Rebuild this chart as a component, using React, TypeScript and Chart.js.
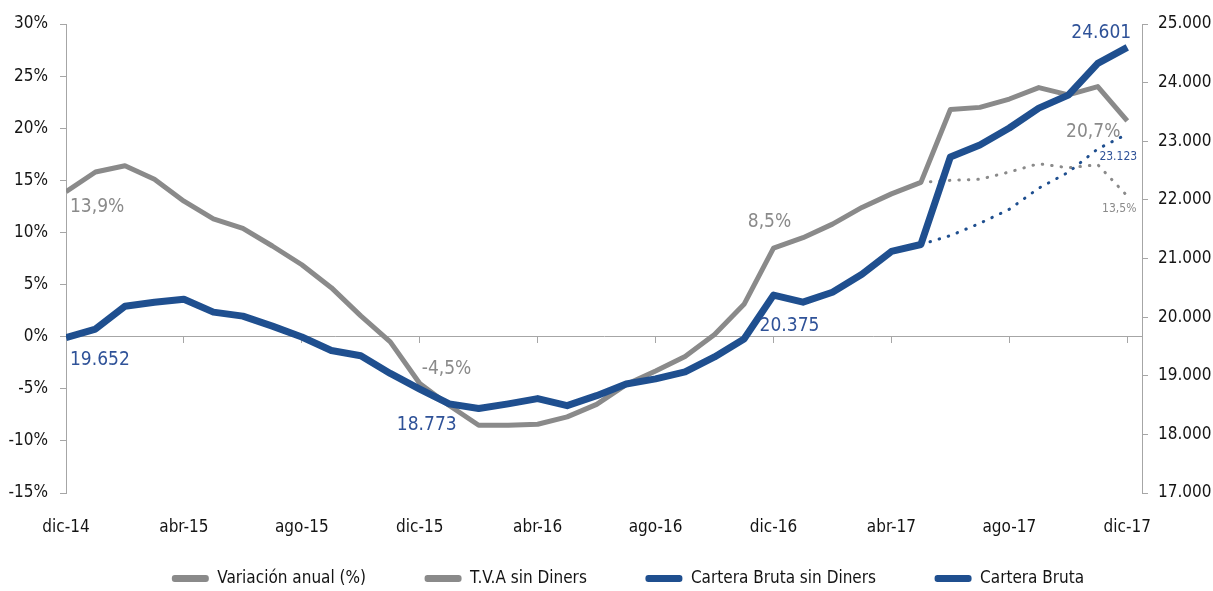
import React, { useEffect, useRef } from 'react';
import { Chart, registerables } from 'chart.js';

Chart.register(...registerables);

const months = [
  'dic-14', 'ene-15', 'feb-15', 'mar-15', 'abr-15', 'may-15', 'jun-15', 'jul-15', 'ago-15', 'sep-15', 'oct-15', 'nov-15',
  'dic-15', 'ene-16', 'feb-16', 'mar-16', 'abr-16', 'may-16', 'jun-16', 'jul-16', 'ago-16', 'sep-16', 'oct-16', 'nov-16',
  'dic-16', 'ene-17', 'feb-17', 'mar-17', 'abr-17', 'may-17', 'jun-17', 'jul-17', 'ago-17', 'sep-17', 'oct-17', 'nov-17',
  'dic-17',
];

const variacionAnual = [
  13.9, 15.8, 16.4, 15.1, 13.0, 11.3, 10.4, 8.7, 6.9, 4.7, 2.0, -0.5,
  -4.5, -6.6, -8.5, -8.5, -8.4, -7.7, -6.5, -4.6, -3.3, -1.9, 0.2, 3.1,
  8.5, 9.5, 10.8, 12.4, 13.7, 14.8, 21.8, 22.0, 22.8, 23.9, 23.2, 24.0,
  20.7,
];

const tvaSinDiners = [
  null, null, null, null, null, null, null, null, null, null, null, null,
  null, null, null, null, null, null, null, null, null, null, null, null,
  null, null, null, null, null, 14.8, 15.0, 15.1, 15.8, 16.6, 16.2, 16.5,
  13.5,
];

const carteraSinDiners = [
  null, null, null, null, null, null, null, null, null, null, null, null,
  null, null, null, null, null, null, null, null, null, null, null, null,
  null, null, null, null, null, 21239, 21390, 21600, 21840, 22200, 22470, 22870,
  23123,
];

const carteraBruta = [
  19652, 19796, 20187, 20255, 20306, 20085, 20017, 19847, 19660, 19430, 19340, 19040,
  18773, 18520, 18440, 18520, 18610, 18490, 18660, 18860, 18947, 19066, 19321, 19626,
  20375, 20255, 20424, 20730, 21120, 21239, 22733, 22937, 23226, 23565, 23786, 24329,
  24601,
];

const seriesNames = ['Variación anual (%)', 'T.V.A sin Diners', 'Cartera Bruta sin Diners', 'Cartera Bruta'];

const GRAY = '#8a8a8a';
const BLUE = '#1f4f8f';
const LABEL_BLUE = '#2f5298';
const AXIS = '#a6a6a6';
const TEXT = '#141414';
const FONT = "'DejaVu Sans Condensed', 'Liberation Sans Narrow', 'Roboto', sans-serif";
const LEGEND_GAP = '          ';

const toXY = (arr: (number | null)[]) => arr.map((v, i) => ({ x: i, y: v }));

const fmtThousands = (v: number) => {
  const t = Math.floor(v / 1000);
  const r = Math.round(v % 1000);
  return `${t}.${String(r).padStart(3, '0')}`;
};

type Note = { ds: number; idx: number; text: string; color: string; size: number; dx: number; dy: number; align: CanvasTextAlign };

const notes: Note[] = [
  { ds: 0, idx: 0, text: '13,9%', color: GRAY, size: 19, dx: 4, dy: 15, align: 'left' },
  { ds: 3, idx: 0, text: '19.652', color: LABEL_BLUE, size: 19, dx: 4, dy: 23, align: 'left' },
  { ds: 0, idx: 12, text: '-4,5%', color: GRAY, size: 19, dx: 2, dy: -15, align: 'left' },
  { ds: 3, idx: 12, text: '18.773', color: LABEL_BLUE, size: 19, dx: 7, dy: 36, align: 'center' },
  { ds: 0, idx: 24, text: '8,5%', color: GRAY, size: 19, dx: -4, dy: -26, align: 'center' },
  { ds: 3, idx: 24, text: '20.375', color: LABEL_BLUE, size: 19, dx: 16, dy: 31, align: 'center' },
  { ds: 3, idx: 36, text: '24.601', color: LABEL_BLUE, size: 19, dx: -26, dy: -14, align: 'center' },
  { ds: 0, idx: 36, text: '20,7%', color: GRAY, size: 19, dx: -34, dy: 11, align: 'center' },
  { ds: 2, idx: 36, text: '23.123', color: LABEL_BLUE, size: 12, dx: -9, dy: 23, align: 'center' },
  { ds: 1, idx: 36, text: '13,5%', color: GRAY, size: 12, dx: -8, dy: 13, align: 'center' },
];

const notesPlugin = {
  id: 'notes',
  afterDatasetsDraw(chart: any) {
    const ctx = chart.ctx as CanvasRenderingContext2D;
    ctx.save();
    notes.forEach((n) => {
      const el = chart.getDatasetMeta(n.ds).data[n.idx];
      if (!el) return;
      ctx.font = `${n.size}px ${FONT}`;
      ctx.fillStyle = n.color;
      ctx.textAlign = n.align;
      ctx.textBaseline = 'middle';
      ctx.fillText(n.text, el.x + n.dx, el.y + n.dy);
    });
    ctx.restore();
  },
};

const seriesColors = [GRAY, GRAY, BLUE, BLUE];

export default function App() {
  const ref = useRef<HTMLCanvasElement | null>(null);

  useEffect(() => {
    if (!ref.current) return;
    const chart = new Chart(ref.current, {
      type: 'line',
      data: {
        datasets: [
          {
            label: seriesNames[0],
            data: toXY(variacionAnual),
            yAxisID: 'y',
            borderColor: GRAY,
            backgroundColor: GRAY,
            borderWidth: 5,
            pointRadius: 0,
            borderJoinStyle: 'round',
            order: 1,
          },
          {
            label: seriesNames[1],
            data: toXY(tvaSinDiners),
            yAxisID: 'y',
            borderColor: GRAY,
            backgroundColor: GRAY,
            borderWidth: 3,
            borderDash: [0.5, 9],
            borderCapStyle: 'round',
            pointRadius: 0,
            order: 3,
          },
          {
            label: seriesNames[2],
            data: toXY(carteraSinDiners),
            yAxisID: 'y1',
            borderColor: BLUE,
            backgroundColor: BLUE,
            borderWidth: 3,
            borderDash: [0.5, 9],
            borderCapStyle: 'round',
            pointRadius: 0,
            order: 2,
          },
          {
            label: seriesNames[3],
            data: toXY(carteraBruta),
            yAxisID: 'y1',
            borderColor: BLUE,
            backgroundColor: BLUE,
            borderWidth: 7,
            pointRadius: 0,
            borderJoinStyle: 'round',
            order: 0,
          },
        ],
      },
      options: {
        responsive: false,
        animation: false,
        events: [],
        layout: { padding: { left: 0, top: 24, right: 0, bottom: 0 } },
        scales: {
          x: {
            type: 'linear',
            position: 'bottom',
            min: 0,
            max: 36.5,
            afterFit: (s: any) => { s.height = 67; },
            grid: { display: false, drawTicks: false },
            border: { display: false },
            ticks: {
              stepSize: 4,
              includeBounds: false,
              autoSkip: false,
              maxRotation: 0,
              padding: 24,
              color: TEXT,
              font: { family: FONT, size: 17 },
              callback: (v: any) => (Number.isInteger(v) && months[v] ? months[v] : ''),
            },
          },
          x2: {
            type: 'linear',
            position: { y: 0 } as any,
            min: 0,
            max: 36.5,
            ticks: { display: false, stepSize: 4, includeBounds: false },
            grid: { drawOnChartArea: false, drawTicks: true, tickLength: 6, color: AXIS },
            border: { color: AXIS, width: 1 },
          },
          y: {
            position: 'left',
            min: -15,
            max: 30,
            afterFit: (s: any) => { s.width = 66; },
            grid: { drawOnChartArea: false, drawTicks: true, tickLength: 6, tickColor: AXIS, color: AXIS },
            border: { color: AXIS },
            ticks: {
              stepSize: 5,
              padding: 12,
              color: TEXT,
              font: { family: FONT, size: 17 },
              callback: (v: any) => `${v}%`,
            },
          },
          y1: {
            position: 'right',
            min: 17000,
            max: 25000,
            afterFit: (s: any) => { s.width = 114; },
            grid: { drawOnChartArea: false, drawTicks: true, tickLength: 6, tickColor: AXIS, color: AXIS },
            border: { color: AXIS },
            ticks: {
              stepSize: 1000,
              padding: 10,
              color: TEXT,
              font: { family: FONT, size: 17 },
              callback: (v: any) => fmtThousands(Number(v)),
            },
          },
        },
        plugins: {
          tooltip: { enabled: false },
          legend: {
            position: 'bottom',
            labels: {
              boxWidth: 37,
              boxHeight: 7,
              padding: 10,
              color: TEXT,
              font: { family: FONT, size: 17 },
              useBorderRadius: true,
              borderRadius: 3,
              sort: (a: any, b: any) => a.datasetIndex - b.datasetIndex,
              generateLabels: (c: any) => {
                const items = (Chart.defaults.plugins.legend.labels as any).generateLabels(c);
                return items.map((it: any) => ({
                  ...it,
                  text: it.datasetIndex < seriesNames.length - 1 ? it.text + LEGEND_GAP : it.text,
                  lineDash: [],
                  lineWidth: 0,
                  fillStyle: seriesColors[it.datasetIndex],
                  strokeStyle: seriesColors[it.datasetIndex],
                }));
              },
            },
          },
        },
      },
      plugins: [notesPlugin],
    } as any);
    return () => chart.destroy();
  }, []);

  return (
    <div style={{ position: 'fixed', left: 0, top: 0, width: 1213, height: 597, overflow: 'hidden', background: '#ffffff' }}>
      <canvas ref={ref} width={1256} height={597} style={{ display: 'block' }} />
    </div>
  );
}
